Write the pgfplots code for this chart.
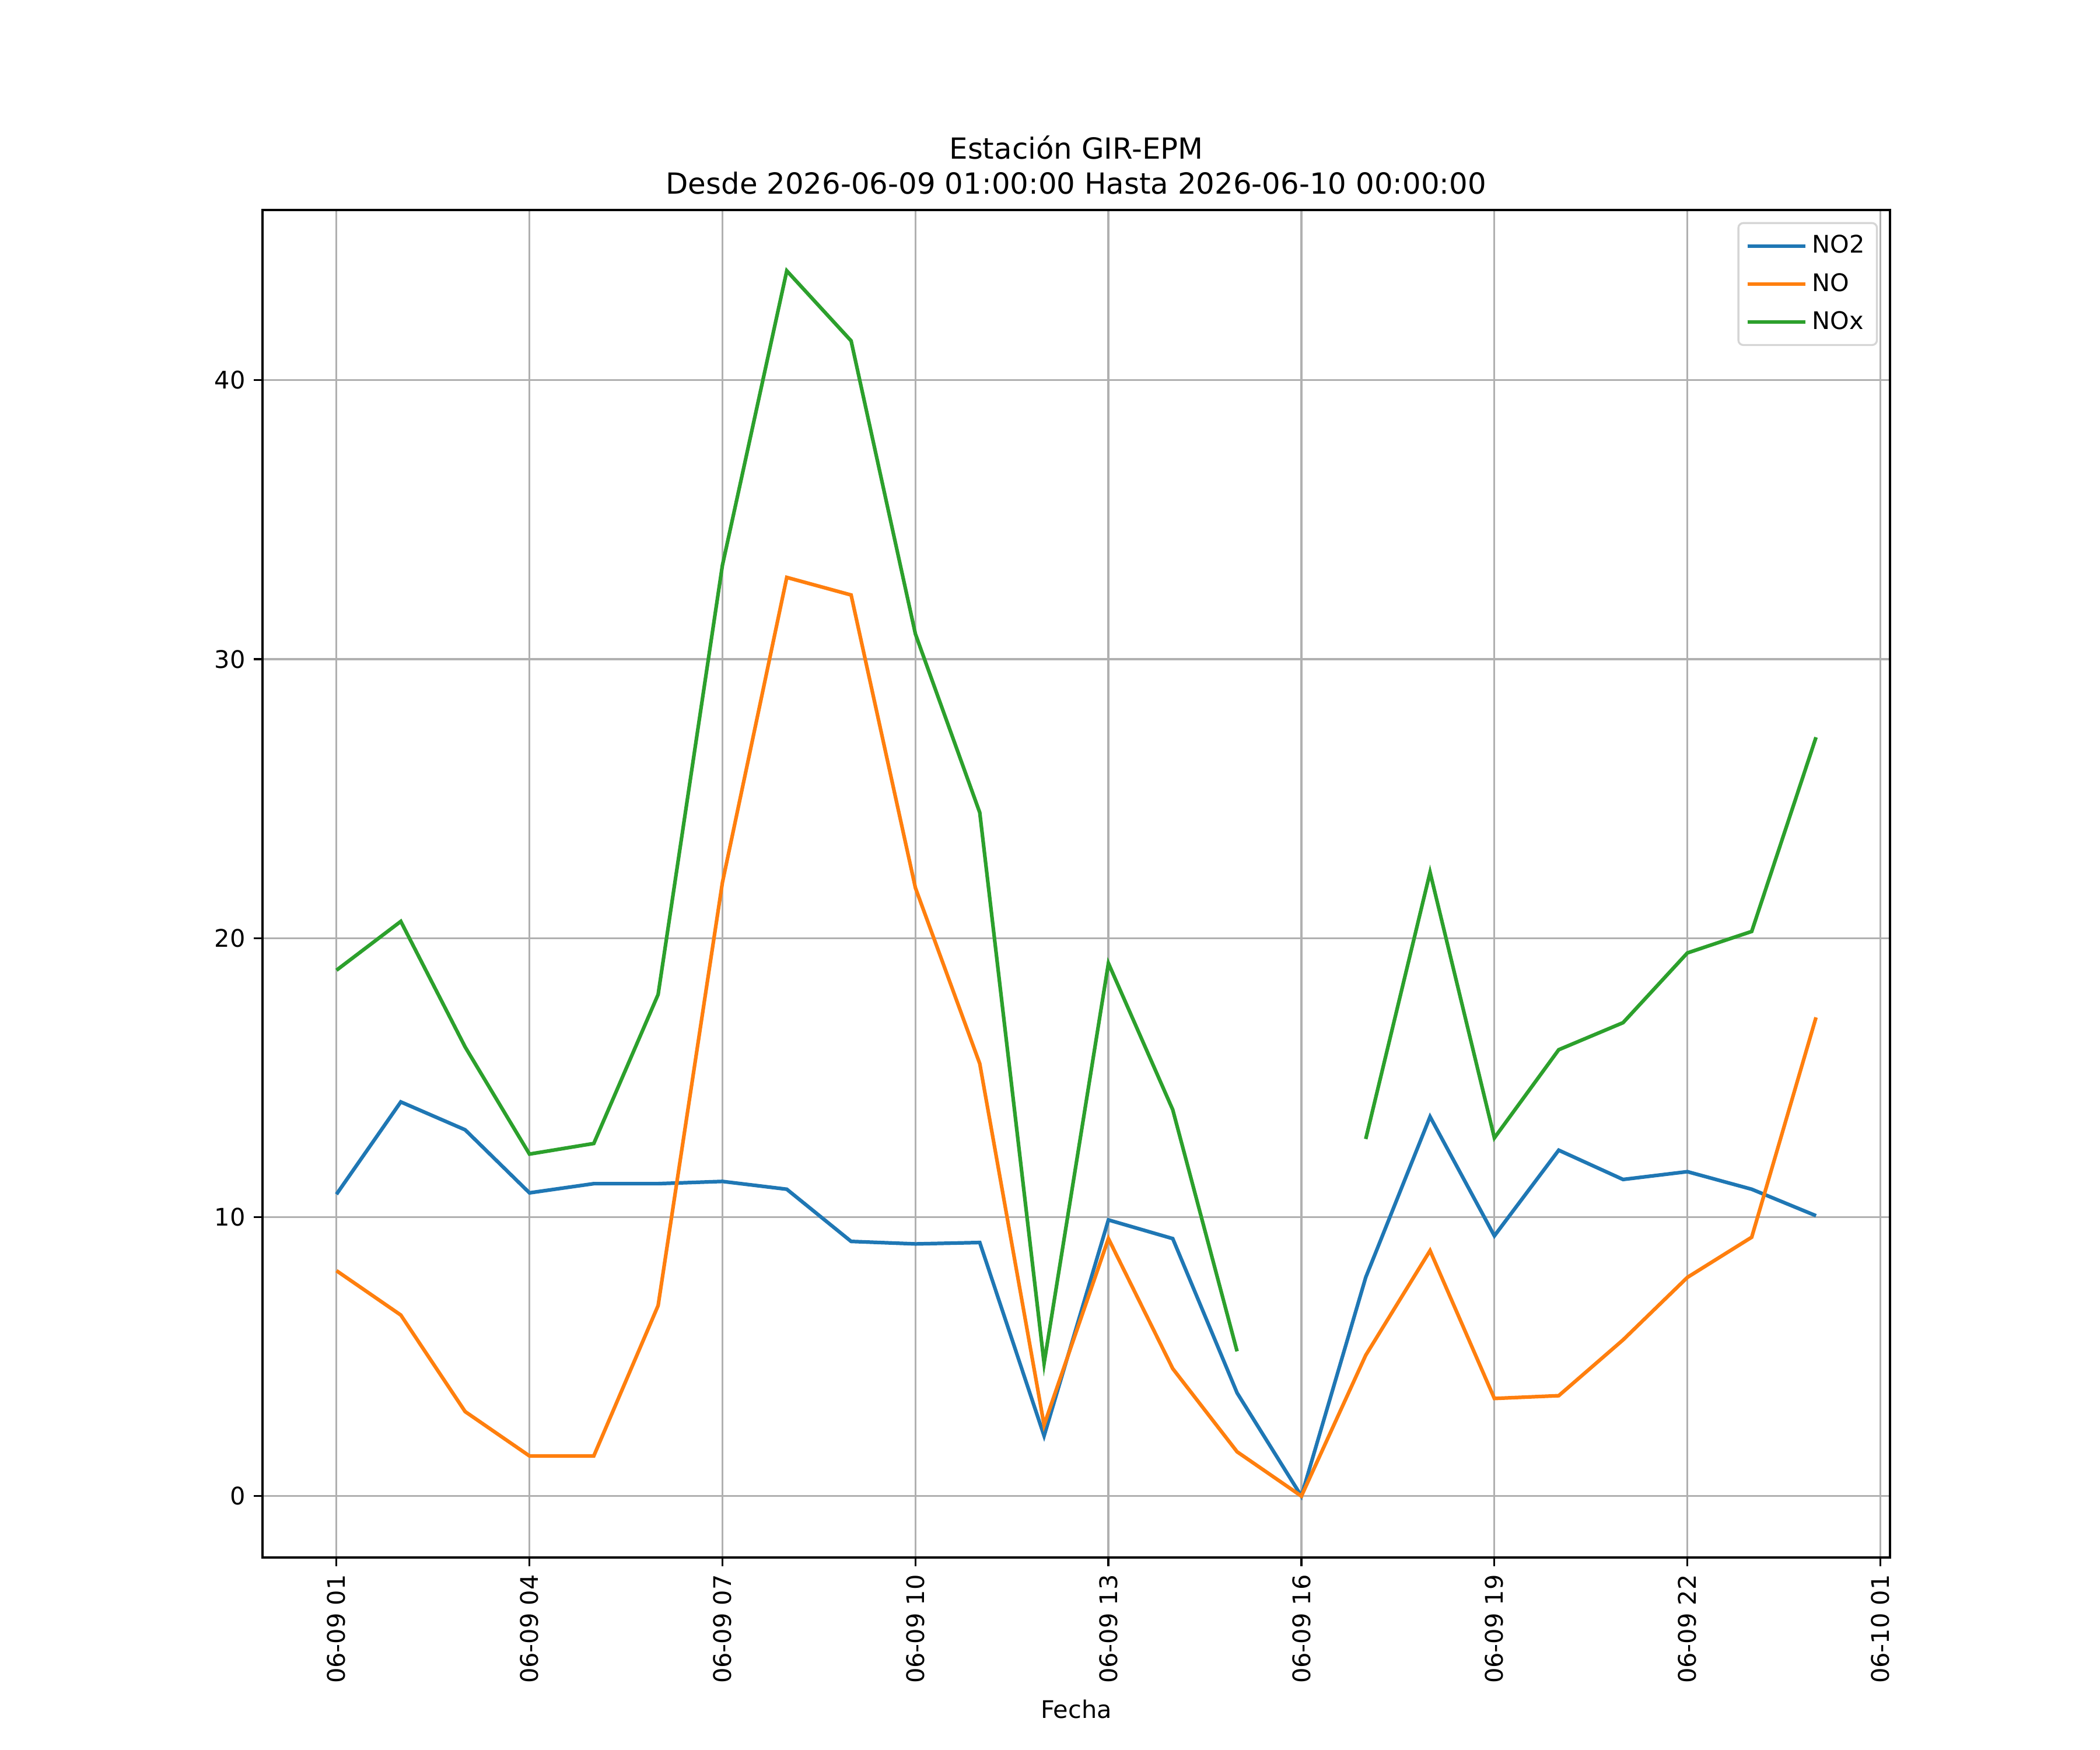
\documentclass[border=0pt]{standalone}
\usepackage{fontspec}
\setmainfont{DejaVu Sans}
\usepackage{pgfplots}
\usepackage{pgfplotstable}
\pgfplotsset{compat=1.18}
\definecolor{tabblue}{HTML}{1F77B4}
\definecolor{taborange}{HTML}{FF7F0E}
\definecolor{tabgreen}{HTML}{2CA02C}
\definecolor{gridgray}{HTML}{B0B0B0}
\definecolor{legframe}{HTML}{D5D5D5}
\pgfplotstableread{
h NOtwo NO NOx
1 10.82 8.08 18.85
2 14.13 6.49 20.60
3 13.13 3.03 16.10
4 10.87 1.44 12.26
5 11.20 1.44 12.64
6 11.20 6.83 17.98
7 11.28 22.00 33.37
8 11.00 32.93 43.92
9 9.13 32.30 41.41
10 9.04 21.80 30.90
11 9.09 15.50 24.50
12 2.16 2.55 4.76
13 9.90 9.23 19.10
14 9.23 4.57 13.85
15 3.70 1.59 5.19
16 0.00 0.00 nan
17 7.84 5.05 12.80
18 13.60 8.80 22.36
19 9.33 3.50 12.84
20 12.40 3.60 16.00
21 11.35 5.60 16.97
22 11.63 7.84 19.47
23 11.00 9.28 20.24
24 10.05 17.16 27.20
}\datatable
\begin{document}
\fontsize{10}{12}\selectfont
\begin{tikzpicture}
\path[use as bounding box] (-1.5in,-1.1in) rectangle (10.5in,8.9in);
\begin{axis}[
  at={(0,0)}, anchor=south west,
  scale only axis,
  width=9.3in, height=7.7in,
  xmin=-0.15, xmax=25.15,
  ymin=-2.2, ymax=46.1,
  xtick={1,4,7,10,13,16,19,22,25},
  xticklabels={06-09 01,06-09 04,06-09 07,06-09 10,06-09 13,06-09 16,06-09 19,06-09 22,06-10 01},
  ytick={0,10,20,30,40},
  xticklabel style={rotate=90, anchor=east, font=\fontsize{10}{12}\selectfont},
  yticklabel style={font=\fontsize{10}{12}\selectfont},
  /pgf/number format/assume math mode=true,
  tick align=outside,
  tick pos=left,
  major tick length=3.5pt,
  every tick/.style={black, line width=0.8pt},
  axis line style={line width=0.8pt},
  grid=major,
  major grid style={gridgray, line width=0.8pt},
  unbounded coords=jump,
  xlabel={Fecha},
  xlabel style={font=\fontsize{10}{12}\selectfont},
  title={Estación GIR-EPM\\Desde 2026-06-09 01:00:00 Hasta 2026-06-10 00:00:00},
  title style={align=center, font=\fontsize{12}{14.4}\selectfont, at={(0.5,1)}, anchor=south, yshift=-3pt},
  legend style={at={(1,1)}, xshift=-5pt, yshift=-5pt, anchor=north east, draw=legframe, line width=0.8pt, rounded corners=2pt, fill=white, font=\fontsize{10}{12}\selectfont, inner xsep=3pt, inner ysep=3pt, row sep=2.8pt},
  legend cell align=left,
  legend image code/.code={\draw[#1] (0pt,0pt) -- (20pt,0pt); \path (0pt,0pt) -- (24pt,0pt);},
]
\addplot[tabblue, line width=1.5pt] table[x=h, y=NOtwo] {\datatable};
\addlegendentry{NO2}
\addplot[taborange, line width=1.5pt] table[x=h, y=NO] {\datatable};
\addlegendentry{NO}
\addplot[tabgreen, line width=1.5pt] table[x=h, y=NOx] {\datatable};
\addlegendentry{NOx}
\end{axis}
\end{tikzpicture}
\end{document}
